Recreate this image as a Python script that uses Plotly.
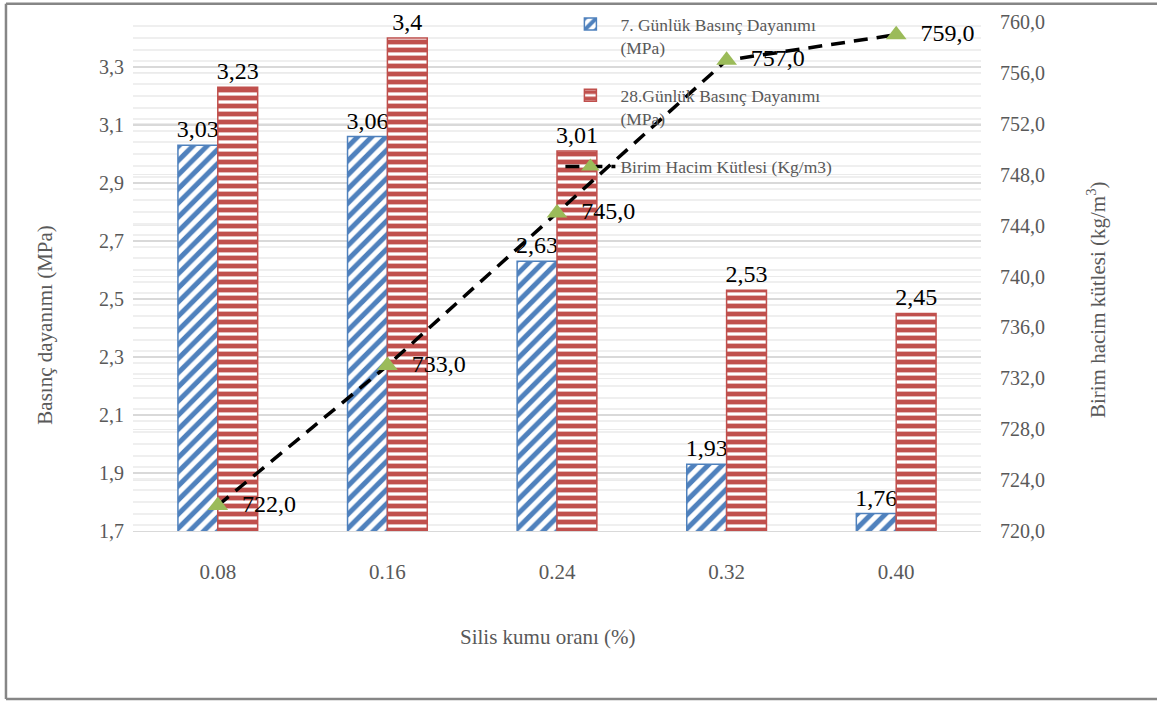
import plotly.graph_objects as go

# data
oran = ["0.08", "0.16", "0.24", "0.32", "0.40"]
gun7 = [3.03, 3.06, 2.63, 1.93, 1.76]
gun28 = [3.23, 3.4, 3.01, 2.53, 2.45]
birim_hacim = [722.0, 733.0, 745.0, 757.0, 759.0]

BLUE = "#4f81bd"
RED = "#c0504d"
GREEN = "#9bbb59"
GREY_TXT = "#595959"
FONT = "Liberation Serif"
NBSP = "\u00a0"


def virgul(v, fmt=None):
    s = format(v, fmt) if fmt else str(v)
    return s.replace(".", ",")


fig = go.Figure()

# the trailing empty line in the names gives the spacing between legend entries
fig.add_trace(go.Bar(
    x=oran, y=gun7, name="7. Günlük Basınç Dayanımı<br>(MPa)<br> ",
    marker=dict(color="white", line=dict(color=BLUE, width=1.5),
                pattern=dict(shape="/", fgcolor=BLUE, bgcolor="white", size=10,
                             solidity=0.5, fgopacity=1)),
    text=[virgul(v) for v in gun7], textposition="outside", constraintext="none",
    textfont=dict(size=24, color="black", family=FONT), cliponaxis=False,
))
fig.add_trace(go.Bar(
    x=oran, y=gun28, name="28.Günlük Basınç Dayanımı<br>(MPa)<br> ",
    marker=dict(color="white", line=dict(color=RED, width=1.5),
                pattern=dict(shape="-", fgcolor=RED, bgcolor="white", size=8,
                             solidity=0.6, fgopacity=1)),
    text=[virgul(v) for v in gun28], textposition="outside", constraintext="none",
    textfont=dict(size=24, color="black", family=FONT), cliponaxis=False,
))
fig.add_trace(go.Scatter(
    x=oran, y=birim_hacim, name="Birim Hacim Kütlesi (Kg/m3)", yaxis="y2",
    mode="lines+markers+text",
    line=dict(color="black", width=3.5, dash="14px,9px"),
    marker=dict(symbol="triangle-up", size=18, color=GREEN),
    text=[NBSP * 2 + virgul(v, ".1f") for v in birim_hacim], textposition="middle right",
    textfont=dict(size=24, color="black", family=FONT), cliponaxis=False,
))

fig.update_layout(
    width=1157, height=702,
    margin=dict(l=133, r=176, t=22, b=171, autoexpand=False),
    paper_bgcolor="white", plot_bgcolor="white",
    font=dict(family=FONT, color=GREY_TXT, size=20),
    separators=",.",
    barmode="group", bargap=0.53, bargroupgap=0,
    showlegend=True,
    legend=dict(x=0.504, y=1.031, xanchor="left", yanchor="top", traceorder="normal",
                bgcolor="rgba(0,0,0,0)", font=dict(size=17.5, color=GREY_TXT, family=FONT),
                valign="top", itemwidth=50),
    xaxis=dict(showgrid=False, showline=True, linecolor="#d9d9d9", linewidth=1,
               ticks="", tickfont=dict(size=21, color=GREY_TXT, family=FONT),
               ticklabelstandoff=22),
    yaxis=dict(range=[1.7, 3.455], tick0=1.7, dtick=0.2, tickformat=".1f",
               showgrid=True, gridcolor="#d9d9d9", gridwidth=1.5, zeroline=False,
               minor=dict(dtick=0.04, showgrid=True, gridcolor="#efefef", gridwidth=1.5),
               tickfont=dict(size=20, color=GREY_TXT, family=FONT), ticklabelstandoff=8),
    yaxis2=dict(range=[720, 760], tick0=720, dtick=4, tickformat=".1f", overlaying="y",
                side="right", showgrid=True, gridcolor="#ebebeb", gridwidth=1, zeroline=False,
                tickfont=dict(size=20, color=GREY_TXT, family=FONT), ticklabelstandoff=18),
)

# axis titles
fig.add_annotation(text="Basınç dayanımı (MPa)", xref="paper", yref="paper",
                   x=-0.104, y=0.405, xanchor="center", yanchor="middle",
                   textangle=-90, showarrow=False,
                   font=dict(size=21, color=GREY_TXT, family=FONT))
fig.add_annotation(text="Birim hacim kütlesi (kg/m<sup>3</sup>)", xref="paper", yref="paper",
                   x=1.137, y=0.454, xanchor="center", yanchor="middle",
                   textangle=-90, showarrow=False,
                   font=dict(size=21, color=GREY_TXT, family=FONT))
fig.add_annotation(text="Silis kumu oranı (%)", xref="paper", yref="paper",
                   x=0.489, y=-0.208, xanchor="center", yanchor="middle", showarrow=False,
                   font=dict(size=21, color=GREY_TXT, family=FONT))

# chart border (left / bottom / top drawn as separate lines)
BORDER = dict(color="#868686", width=2.5)
fig.add_shape(type="line", xref="paper", yref="paper", x0=-0.1498, x1=-0.1498,
              y0=-0.330, y1=1.036, line=BORDER)
fig.add_shape(type="line", xref="paper", yref="paper", x0=-0.1498, x1=1.215,
              y0=-0.330, y1=-0.330, line=BORDER)
fig.add_shape(type="line", xref="paper", yref="paper", x0=-0.1498, x1=1.215,
              y0=1.036, y1=1.036, line=BORDER)

fig.write_html("out.html", config={"displayModeBar": False},
               post_script="document.body.style.margin='0';")
